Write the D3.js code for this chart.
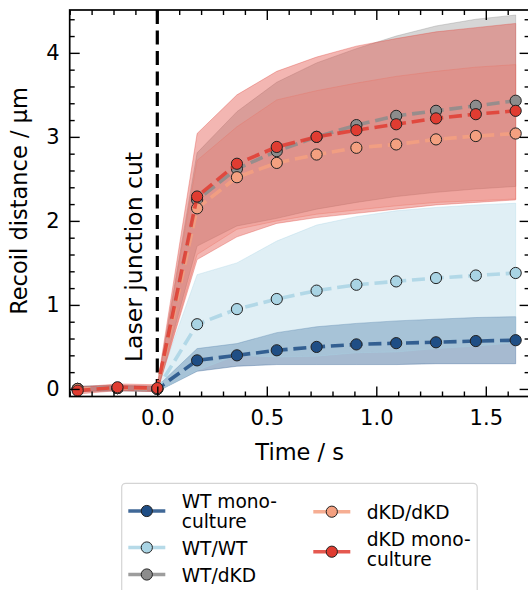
<!DOCTYPE html>
<html>
<head>
<meta charset="utf-8">
<script src="https://cdn.jsdelivr.net/npm/d3@7"></script>
<style>
  html, body { margin: 0; padding: 0; background: #fff; }
  svg { display: block; font-family: "DejaVu Sans", sans-serif; }
</style>
</head>
<body>
<svg id="chart" width="528" height="590"></svg>
<script>
// Frame times (s), relative to the laser cut at t = 0
const times = [-0.3636, -0.1818, 0, 0.1818, 0.3636, 0.5455, 0.7273, 0.9091, 1.0909, 1.2727, 1.4545, 1.6364];

// Recoil distance (µm): mean and shaded band limits per condition
const wtMonoMean = [0.00, 0.01, 0.00, 0.34, 0.40, 0.46, 0.50, 0.53, 0.545, 0.555, 0.57, 0.58];
const wtMonoLo   = [-0.03, -0.02, -0.03, 0.21, 0.27, 0.29, 0.29, 0.29, 0.29, 0.30, 0.30, 0.30];
const wtMonoHi   = [0.03, 0.04, 0.03, 0.48, 0.54, 0.67, 0.74, 0.78, 0.81, 0.83, 0.85, 0.86];

const wtWtMean = [0.00, 0.01, 0.00, 0.77, 0.95, 1.07, 1.17, 1.24, 1.28, 1.32, 1.35, 1.38];
const wtWtLo   = [-0.03, -0.02, -0.03, 0.22, 0.40, 0.38, 0.39, 0.43, 0.44, 0.48, 0.51, 0.55];
const wtWtHi   = [0.03, 0.04, 0.03, 1.36, 1.50, 1.76, 1.95, 2.05, 2.12, 2.16, 2.19, 2.21];

const wtDkdMean = [0.00, 0.01, 0.00, 2.25, 2.62, 2.83, 3.00, 3.14, 3.25, 3.31, 3.37, 3.43];
const wtDkdLo   = [-0.03, -0.02, -0.03, 1.70, 1.94, 2.03, 2.14, 2.22, 2.29, 2.34, 2.38, 2.41];
const wtDkdHi   = [0.03, 0.04, 0.03, 2.81, 3.30, 3.65, 3.88, 4.05, 4.20, 4.32, 4.40, 4.45];

const dkdDkdMean = [0.00, 0.01, 0.00, 2.15, 2.52, 2.69, 2.79, 2.87, 2.91, 2.97, 3.01, 3.04];
const dkdDkdLo   = [-0.03, -0.02, -0.03, 1.60, 1.90, 2.00, 2.08, 2.13, 2.18, 2.22, 2.24, 2.26];
const dkdDkdHi   = [0.03, 0.04, 0.03, 2.72, 3.12, 3.44, 3.55, 3.64, 3.72, 3.78, 3.83, 3.86];

const dkdMonoMean = [-0.02, 0.02, 0.01, 2.29, 2.68, 2.88, 3.00, 3.08, 3.15, 3.22, 3.27, 3.31];
const dkdMonoLo   = [-0.06, -0.02, -0.03, 1.54, 1.81, 1.97, 2.04, 2.09, 2.14, 2.19, 2.22, 2.25];
const dkdMonoHi   = [0.02, 0.06, 0.05, 3.04, 3.50, 3.78, 3.95, 4.08, 4.17, 4.25, 4.30, 4.35];

// Series labels (legend text lines) and colours
const seriesNames  = [["WT mono-", "culture"], ["WT/WT"], ["WT/dKD"], ["dKD/dKD"], ["dKD mono-", "culture"]];
const seriesColors = ["#1f4e85", "#a9d4e4", "#8c8c8c", "#f4a080", "#e03c31"];
const bandColors   = ["#2a5a8e", "#a9d4e4", "#8c8c8c", "#ee8a78", "#e0483e"];
const bandOpacity  = [0.42, 0.36, 0.36, 0.24, 0.4];

const xTicks = [0.0, 0.5, 1.0, 1.5];
const yTicks = [0, 1, 2, 3, 4];
const cutLabel = "Laser junction cut";
const xLabel = "Time / s";
const yLabel = "Recoil distance / µm";

const series = [
  { mean: wtMonoMean, lo: wtMonoLo, hi: wtMonoHi },
  { mean: wtWtMean, lo: wtWtLo, hi: wtWtHi },
  { mean: wtDkdMean, lo: wtDkdLo, hi: wtDkdHi },
  { mean: dkdDkdMean, lo: dkdDkdLo, hi: dkdDkdHi },
  { mean: dkdMonoMean, lo: dkdMonoLo, hi: dkdMonoHi }
].map((s, i) => ({
  name: seriesNames[i],
  color: seriesColors[i],
  band: bandColors[i],
  bandOpacity: bandOpacity[i],
  points: times.map((t, k) => ({ t, m: s.mean[k], lo: s.lo[k], hi: s.hi[k] }))
}));

const svg = d3.select("#chart");
const L = 69.7, R = 529.6, T = 10, B = 396.5;

const x = d3.scaleLinear().domain([-0.4, 1.7]).range([L, R]);
const y = d3.scaleLinear().domain([-0.09, 4.51]).range([B, T]);

const plot = svg.append("g");
plot.append("defs").append("clipPath").attr("id", "clip")
  .append("rect").attr("x", L).attr("y", T).attr("width", R - L).attr("height", B - T);
const inner = plot.append("g").attr("clip-path", "url(#clip)");

// shaded bands
const area = d3.area().x(d => x(d.t)).y0(d => y(d.lo)).y1(d => y(d.hi));
series.forEach(s => {
  inner.append("path").datum(s.points)
    .attr("d", area)
    .attr("fill", s.band)
    .attr("fill-opacity", s.bandOpacity)
    .attr("stroke", s.band)
    .attr("stroke-opacity", 0.35)
    .attr("stroke-width", 1);
});

// dashed vertical line at the cut
inner.append("line")
  .attr("x1", x(0)).attr("x2", x(0)).attr("y1", T).attr("y2", B)
  .attr("stroke", "#000").attr("stroke-width", 3.2)
  .attr("stroke-dasharray", "14,6.5");

// mean lines with markers
const line = d3.line().x(d => x(d.t)).y(d => y(d.m));
series.forEach(s => {
  inner.append("path").datum(s.points)
    .attr("d", line)
    .attr("fill", "none")
    .attr("stroke", s.color)
    .attr("stroke-opacity", 0.85)
    .attr("stroke-width", 3.6)
    .attr("stroke-dasharray", "13,5.8");
  inner.selectAll(null).data(s.points).enter().append("circle")
    .attr("cx", d => x(d.t)).attr("cy", d => y(d.m))
    .attr("r", 5.6)
    .attr("fill", s.color)
    .attr("stroke", "#222")
    .attr("stroke-width", 1);
});

// axes with inward ticks
function styleAxis(g) {
  g.select(".domain").remove();
  g.selectAll(".tick line").attr("stroke", "#000").attr("stroke-width", 1.4);
  g.selectAll(".tick text").attr("font-size", 21).attr("fill", "#000")
    .attr("font-family", "DejaVu Sans, sans-serif");
}
const xMinor = d3.range(-4, 17).map(v => v / 10).filter(v => Math.abs(v * 2 - Math.round(v * 2)) > 1e-6);
const yMinor = d3.range(0, 23).map(v => v / 5).filter(v => Math.abs(v - Math.round(v)) > 1e-6);

svg.append("g").attr("transform", `translate(0,${B})`)
  .call(d3.axisBottom(x).tickValues(xTicks).tickFormat(d3.format(".1f")).tickSizeInner(-10).tickSizeOuter(0).tickPadding(13.5))
  .call(styleAxis);
svg.append("g").attr("transform", `translate(0,${B})`)
  .call(d3.axisBottom(x).tickValues(xMinor).tickFormat("").tickSizeInner(-5).tickSizeOuter(0))
  .call(styleAxis);
svg.append("g").attr("transform", `translate(0,${T})`)
  .call(d3.axisTop(x).tickValues(xTicks).tickFormat("").tickSizeInner(-10).tickSizeOuter(0))
  .call(styleAxis);
svg.append("g").attr("transform", `translate(0,${T})`)
  .call(d3.axisTop(x).tickValues(xMinor).tickFormat("").tickSizeInner(-5).tickSizeOuter(0))
  .call(styleAxis);
svg.append("g").attr("transform", `translate(${L},0)`)
  .call(d3.axisLeft(y).tickValues(yTicks).tickFormat(d3.format("d")).tickSizeInner(-10).tickSizeOuter(0).tickPadding(10))
  .call(styleAxis);
svg.append("g").attr("transform", `translate(${L},0)`)
  .call(d3.axisLeft(y).tickValues(yMinor).tickFormat("").tickSizeInner(-5).tickSizeOuter(0))
  .call(styleAxis);
svg.append("g").attr("transform", `translate(${R},0)`)
  .call(d3.axisRight(y).tickValues(yTicks).tickFormat("").tickSizeInner(-10).tickSizeOuter(0))
  .call(styleAxis);
svg.append("g").attr("transform", `translate(${R},0)`)
  .call(d3.axisRight(y).tickValues(yMinor).tickFormat("").tickSizeInner(-5).tickSizeOuter(0))
  .call(styleAxis);

// frame
svg.append("rect").attr("x", L).attr("y", T).attr("width", R - L).attr("height", B - T)
  .attr("fill", "none").attr("stroke", "#000").attr("stroke-width", 1.7);

// annotation along the cut line
svg.append("text")
  .attr("transform", `translate(142,362) rotate(-90)`)
  .attr("font-size", 23.5).attr("text-anchor", "start")
  .text(cutLabel);

// axis titles
svg.append("text").attr("x", 299.7).attr("y", 460)
  .attr("font-size", 22.5).attr("text-anchor", "middle").text(xLabel);
svg.append("text")
  .attr("transform", `translate(27,201) rotate(-90)`)
  .attr("font-size", 22.5).attr("text-anchor", "middle").text(yLabel);

// legend
const leg = svg.append("g");
leg.append("rect").attr("x", 121.7).attr("y", 483.3).attr("width", 355.5).attr("height", 130)
  .attr("rx", 4).attr("fill", "#fff").attr("fill-opacity", 0.8)
  .attr("stroke", "#d4d4d4").attr("stroke-width", 1.2);

const legendSlots = [
  { hx: 128.3, tx: 181.7, my: 511, lines: [507.7, 527.7] },
  { hx: 128.3, tx: 181.7, my: 547.5, lines: [555] },
  { hx: 128.3, tx: 181.7, my: 574.5, lines: [581.7] },
  { hx: 313.3, tx: 366.7, my: 511.7, lines: [519] },
  { hx: 313.3, tx: 366.7, my: 551.7, lines: [545.7, 566.2] }
];
series.forEach((s, i) => {
  const slot = legendSlots[i];
  leg.append("line")
    .attr("x1", slot.hx).attr("x2", slot.hx + 37)
    .attr("y1", slot.my).attr("y2", slot.my)
    .attr("stroke", s.color).attr("stroke-opacity", 0.85).attr("stroke-width", 3.6);
  leg.append("circle")
    .attr("cx", slot.hx + 18.5).attr("cy", slot.my).attr("r", 5.6)
    .attr("fill", s.color).attr("stroke", "#222").attr("stroke-width", 1);
  s.name.forEach((ln, j) => {
    leg.append("text").attr("x", slot.tx).attr("y", slot.lines[j])
      .attr("font-size", 18.6).text(ln);
  });
});
</script>
</body>
</html>
